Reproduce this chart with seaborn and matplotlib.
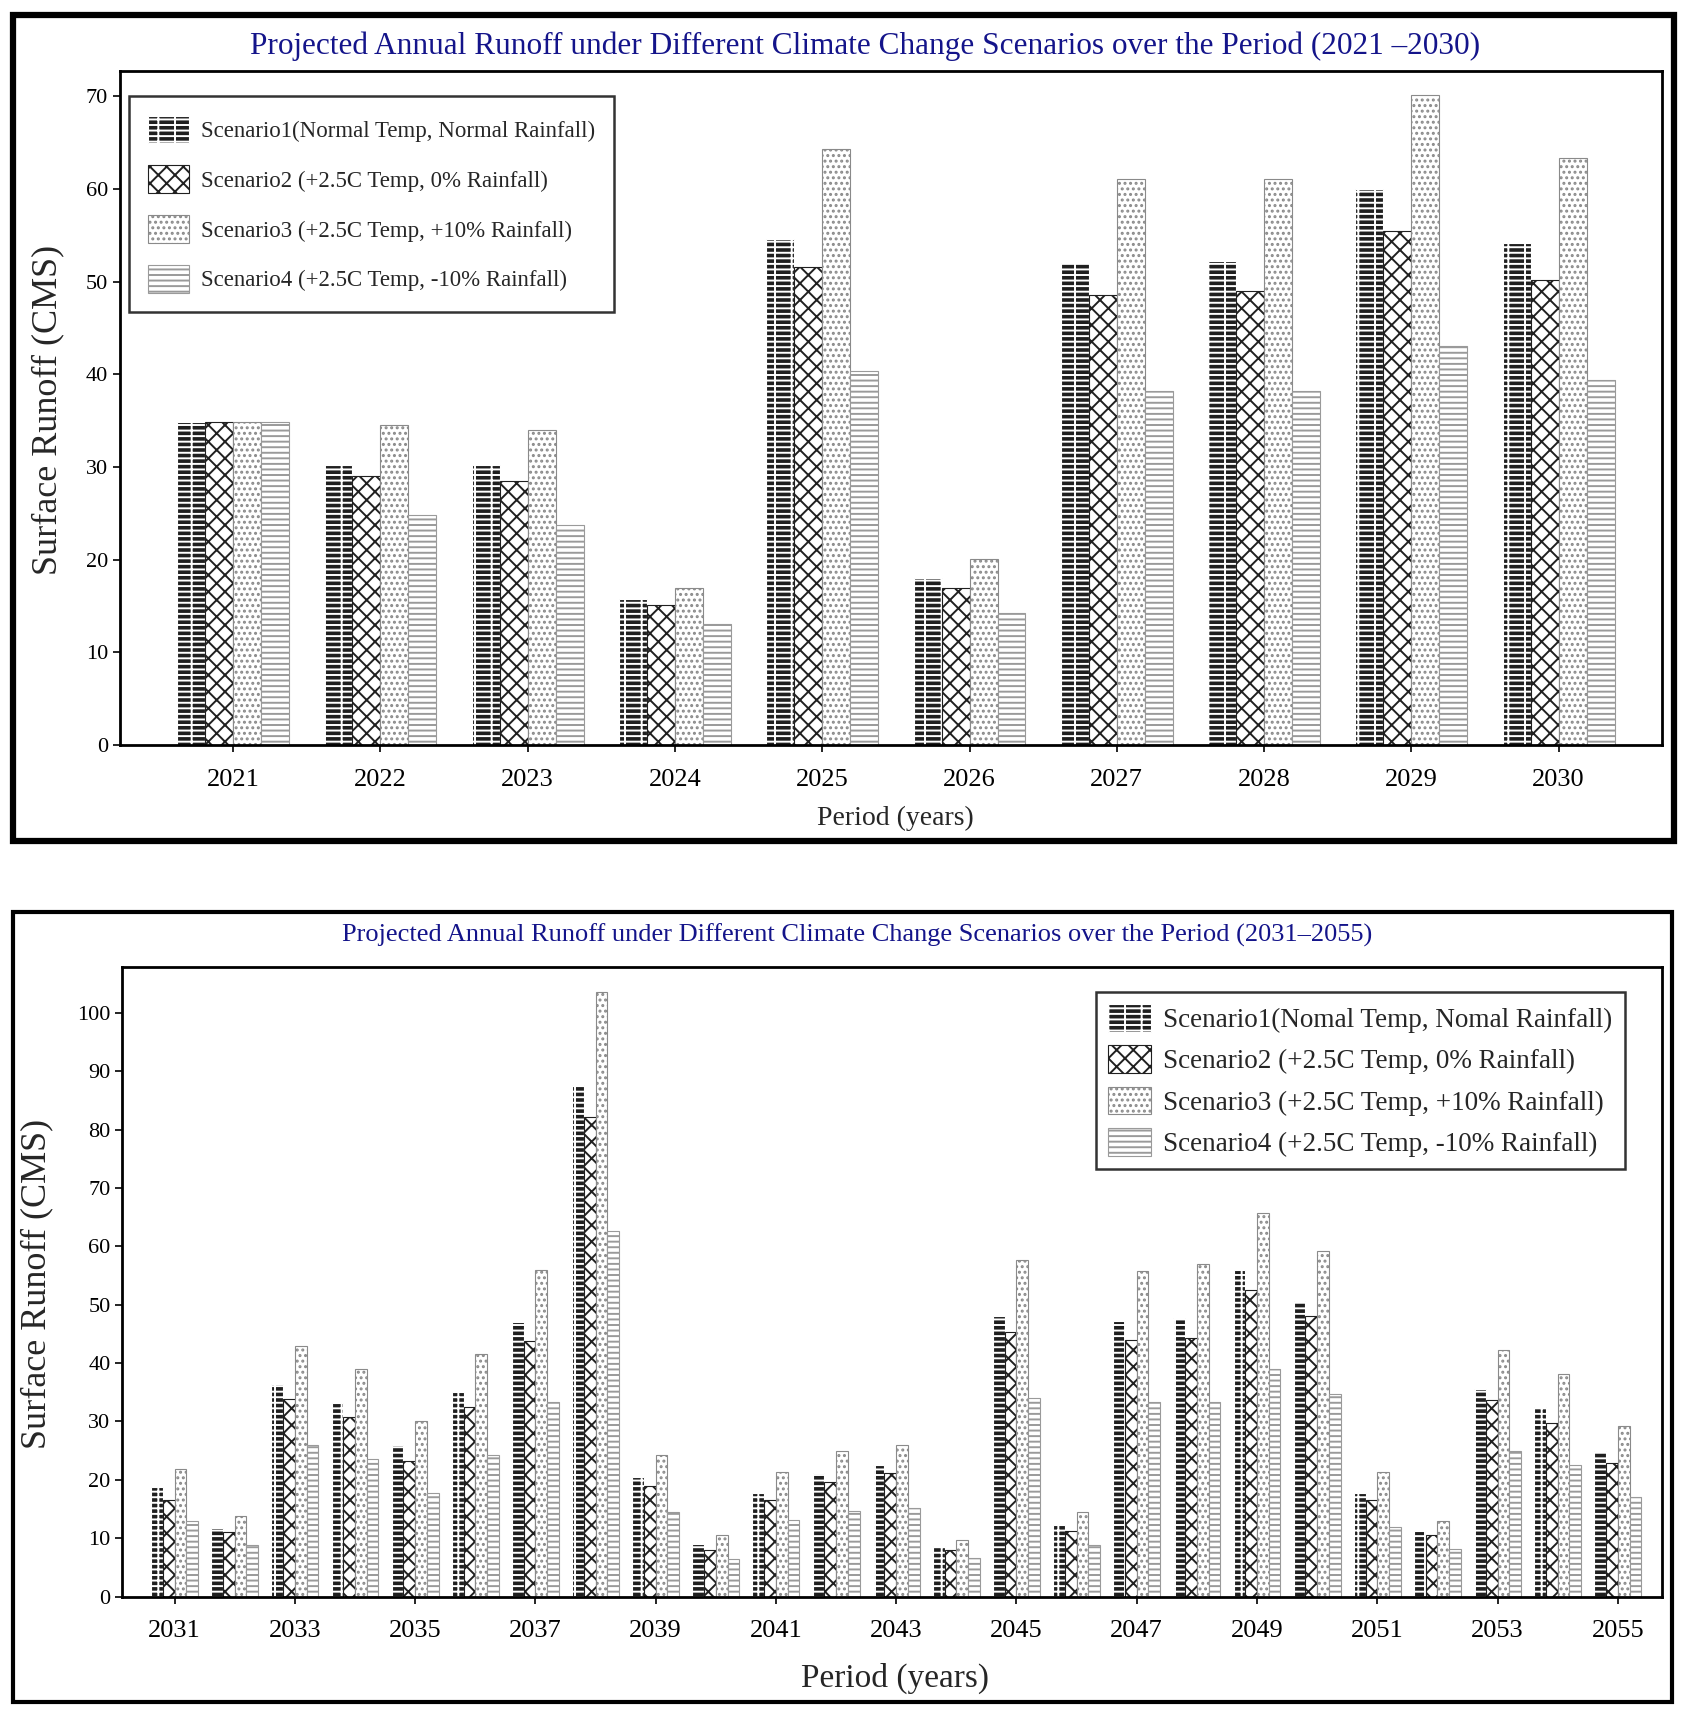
import matplotlib
matplotlib.use('Agg')
import matplotlib.pyplot as plt
from matplotlib.patches import Rectangle
import numpy as np
import pandas as pd
import seaborn as sns

# Scenario names (legend labels differ slightly between the two panels)
scen_top = ['Scenario1(Normal Temp, Normal Rainfall)',
            'Scenario2 (+2.5C Temp, 0% Rainfall)',
            'Scenario3 (+2.5C Temp, +10% Rainfall)',
            'Scenario4 (+2.5C Temp, -10% Rainfall)']
scen_bot = ['Scenario1(Nomal Temp, Nomal Rainfall)',
            'Scenario2 (+2.5C Temp, 0% Rainfall)',
            'Scenario3 (+2.5C Temp, +10% Rainfall)',
            'Scenario4 (+2.5C Temp, -10% Rainfall)']

# Period 2021-2030
years_top = [2021, 2022, 2023, 2024, 2025, 2026, 2027, 2028, 2029, 2030]
s1_top = [34.9, 30.2, 30.2, 15.8, 54.6, 18.0, 52.0, 52.2, 60.0, 54.2]
s2_top = [34.9, 29.0, 28.5, 15.1, 51.6, 16.9, 48.5, 49.0, 55.4, 50.2]
s3_top = [34.9, 34.5, 34.0, 16.9, 64.3, 20.1, 61.1, 61.1, 70.1, 63.3]
s4_top = [34.9, 24.8, 23.7, 13.1, 40.3, 14.3, 38.2, 38.2, 43.0, 39.4]

# Period 2031-2055
years_bot = list(range(2031, 2056))
s1_bot = [18.7, 11.8, 36.5, 33.1, 25.9, 35.0, 47.1, 87.7, 20.5, 9.0,
          17.8, 21.2, 22.6, 8.7, 48.1, 12.3, 47.2, 47.7, 56.0, 50.6,
          17.8, 11.3, 35.5, 32.4, 25.0]
s2_bot = [16.5, 11.0, 33.8, 30.8, 23.3, 32.4, 43.7, 82.1, 18.9, 8.0,
          16.5, 19.7, 21.1, 7.9, 45.4, 11.3, 44.0, 44.3, 52.6, 48.0,
          16.5, 10.5, 33.7, 29.7, 22.8]
s3_bot = [21.9, 13.8, 43.0, 38.9, 30.1, 41.5, 56.0, 103.6, 24.3, 10.6,
          21.3, 25.0, 26.0, 9.7, 57.7, 14.5, 55.8, 56.9, 65.7, 59.2,
          21.3, 12.9, 42.3, 38.2, 29.2]
s4_bot = [12.9, 8.8, 26.0, 23.6, 17.8, 24.3, 33.3, 62.7, 14.4, 6.5,
          13.1, 14.6, 15.2, 6.6, 34.1, 8.8, 33.4, 33.4, 39.0, 34.7,
          11.9, 8.2, 25.0, 22.6, 17.1]

sns.set_style('ticks')
plt.rcParams['font.family'] = ['Liberation Serif', 'DejaVu Serif']
plt.rcParams['hatch.linewidth'] = 1.4

faces = ['#1f1f1f', 'white', 'white', 'white']
edges = ['white', '#202020', '#8a8a8a', '#9a9a9a']
hatches = ['---|', 'xx', '...', '---']


def long_df(years, series, names):
    rows = []
    for name, vals in zip(names, series):
        for y, v in zip(years, vals):
            rows.append([str(y), name, v])
    return pd.DataFrame(rows, columns=['Year', 'Scenario', 'Runoff'])


def style_patch(p, i):
    p.set_facecolor(faces[i])
    p.set_edgecolor(edges[i])
    p.set_hatch(hatches[i])
    p.set_linewidth(0.8)


def draw_panel(ax, df, names, width):
    sns.barplot(data=df, x='Year', y='Runoff', hue='Scenario', hue_order=names,
                ax=ax, width=width, palette=['white'] * 4, saturation=1, errorbar=None)
    for i, cont in enumerate(ax.containers):
        for bar in cont:
            style_patch(bar, i)
    for s in ax.spines.values():
        s.set_linewidth(2)
        s.set_color('black')
    ax.tick_params(axis='both', length=5, width=1.2, colors='black')


def fix_legend(leg):
    leg.get_frame().set_linewidth(1.8)
    for i, h in enumerate(leg.legend_handles):
        style_patch(h, i)


fig = plt.figure(figsize=(16.87, 17.13), dpi=100)

# outer frames of the two panels
fig.add_artist(Rectangle((0.008, 0.509), 0.984, 0.482, transform=fig.transFigure,
                         fill=False, lw=4.5, ec='black'))
fig.add_artist(Rectangle((0.008, 0.0064), 0.983, 0.461, transform=fig.transFigure,
                         fill=False, lw=3, ec='black'))

# ---- top panel ----
ax1 = fig.add_axes([0.071, 0.565, 0.914, 0.3935])
df_top = long_df(years_top, [s1_top, s2_top, s3_top, s4_top], scen_top)
draw_panel(ax1, df_top, scen_top, 0.76)
ax1.set_ylim(0, 72.7)
ax1.set_xlim(-0.77, 9.70)
ax1.set_yticks(np.arange(0, 71, 10))
ax1.tick_params(axis='y', labelsize=16)
ax1.tick_params(axis='x', labelsize=19, pad=12)
ax1.set_xlabel('Period (years)', fontsize=20)
ax1.xaxis.set_label_coords(0.503, -0.09)
ax1.set_ylabel('Surface Runoff (CMS)', fontsize=26)
ax1.yaxis.set_label_coords(-0.036, 0.497)
leg1 = ax1.legend(loc='upper left', bbox_to_anchor=(0.0057, 0.963), borderaxespad=0,
                  fontsize=16.5, frameon=True, fancybox=False, edgecolor='black',
                  handlelength=1.8, handleheight=1.5, handletextpad=0.5,
                  labelspacing=0.95, borderpad=0.85)
fix_legend(leg1)
fig.text(0.513, 0.973, 'Projected Annual Runoff under Different Climate Change Scenarios over the Period (2021 \u20132030)',
         ha='center', va='center', fontsize=22.5, color='#14148a')

# ---- bottom panel ----
ax2 = fig.add_axes([0.0725, 0.068, 0.9125, 0.3676])
df_bot = long_df(years_bot, [s1_bot, s2_bot, s3_bot, s4_bot], scen_bot)
draw_panel(ax2, df_bot, scen_bot, 0.78)
ax2.set_ylim(0, 107.9)
ax2.set_xlim(-0.87, 24.73)
ax2.set_yticks(np.arange(0, 101, 10))
ax2.set_xticks(range(0, 25, 2))
ax2.set_xticklabels([str(y) for y in years_bot[::2]])
ax2.tick_params(axis='y', labelsize=16)
ax2.tick_params(axis='x', labelsize=19, pad=12)
ax2.set_xlabel('Period (years)', fontsize=24)
ax2.xaxis.set_label_coords(0.502, -0.105)
ax2.set_ylabel('Surface Runoff (CMS)', fontsize=26)
ax2.yaxis.set_label_coords(-0.045, 0.497)
leg2 = ax2.legend(loc='upper right', bbox_to_anchor=(0.976, 0.960), borderaxespad=0,
                  fontsize=19.5, frameon=True, fancybox=False, edgecolor='black',
                  handlelength=1.6, handleheight=1.2, handletextpad=0.45,
                  labelspacing=0.45, borderpad=0.45)
fix_legend(leg2)
fig.text(0.508, 0.454, 'Projected Annual Runoff under Different Climate Change Scenarios over the Period (2031\u20132055)',
         ha='center', va='center', fontsize=19, color='#14148a')

fig.savefig('out.png', dpi=100)
